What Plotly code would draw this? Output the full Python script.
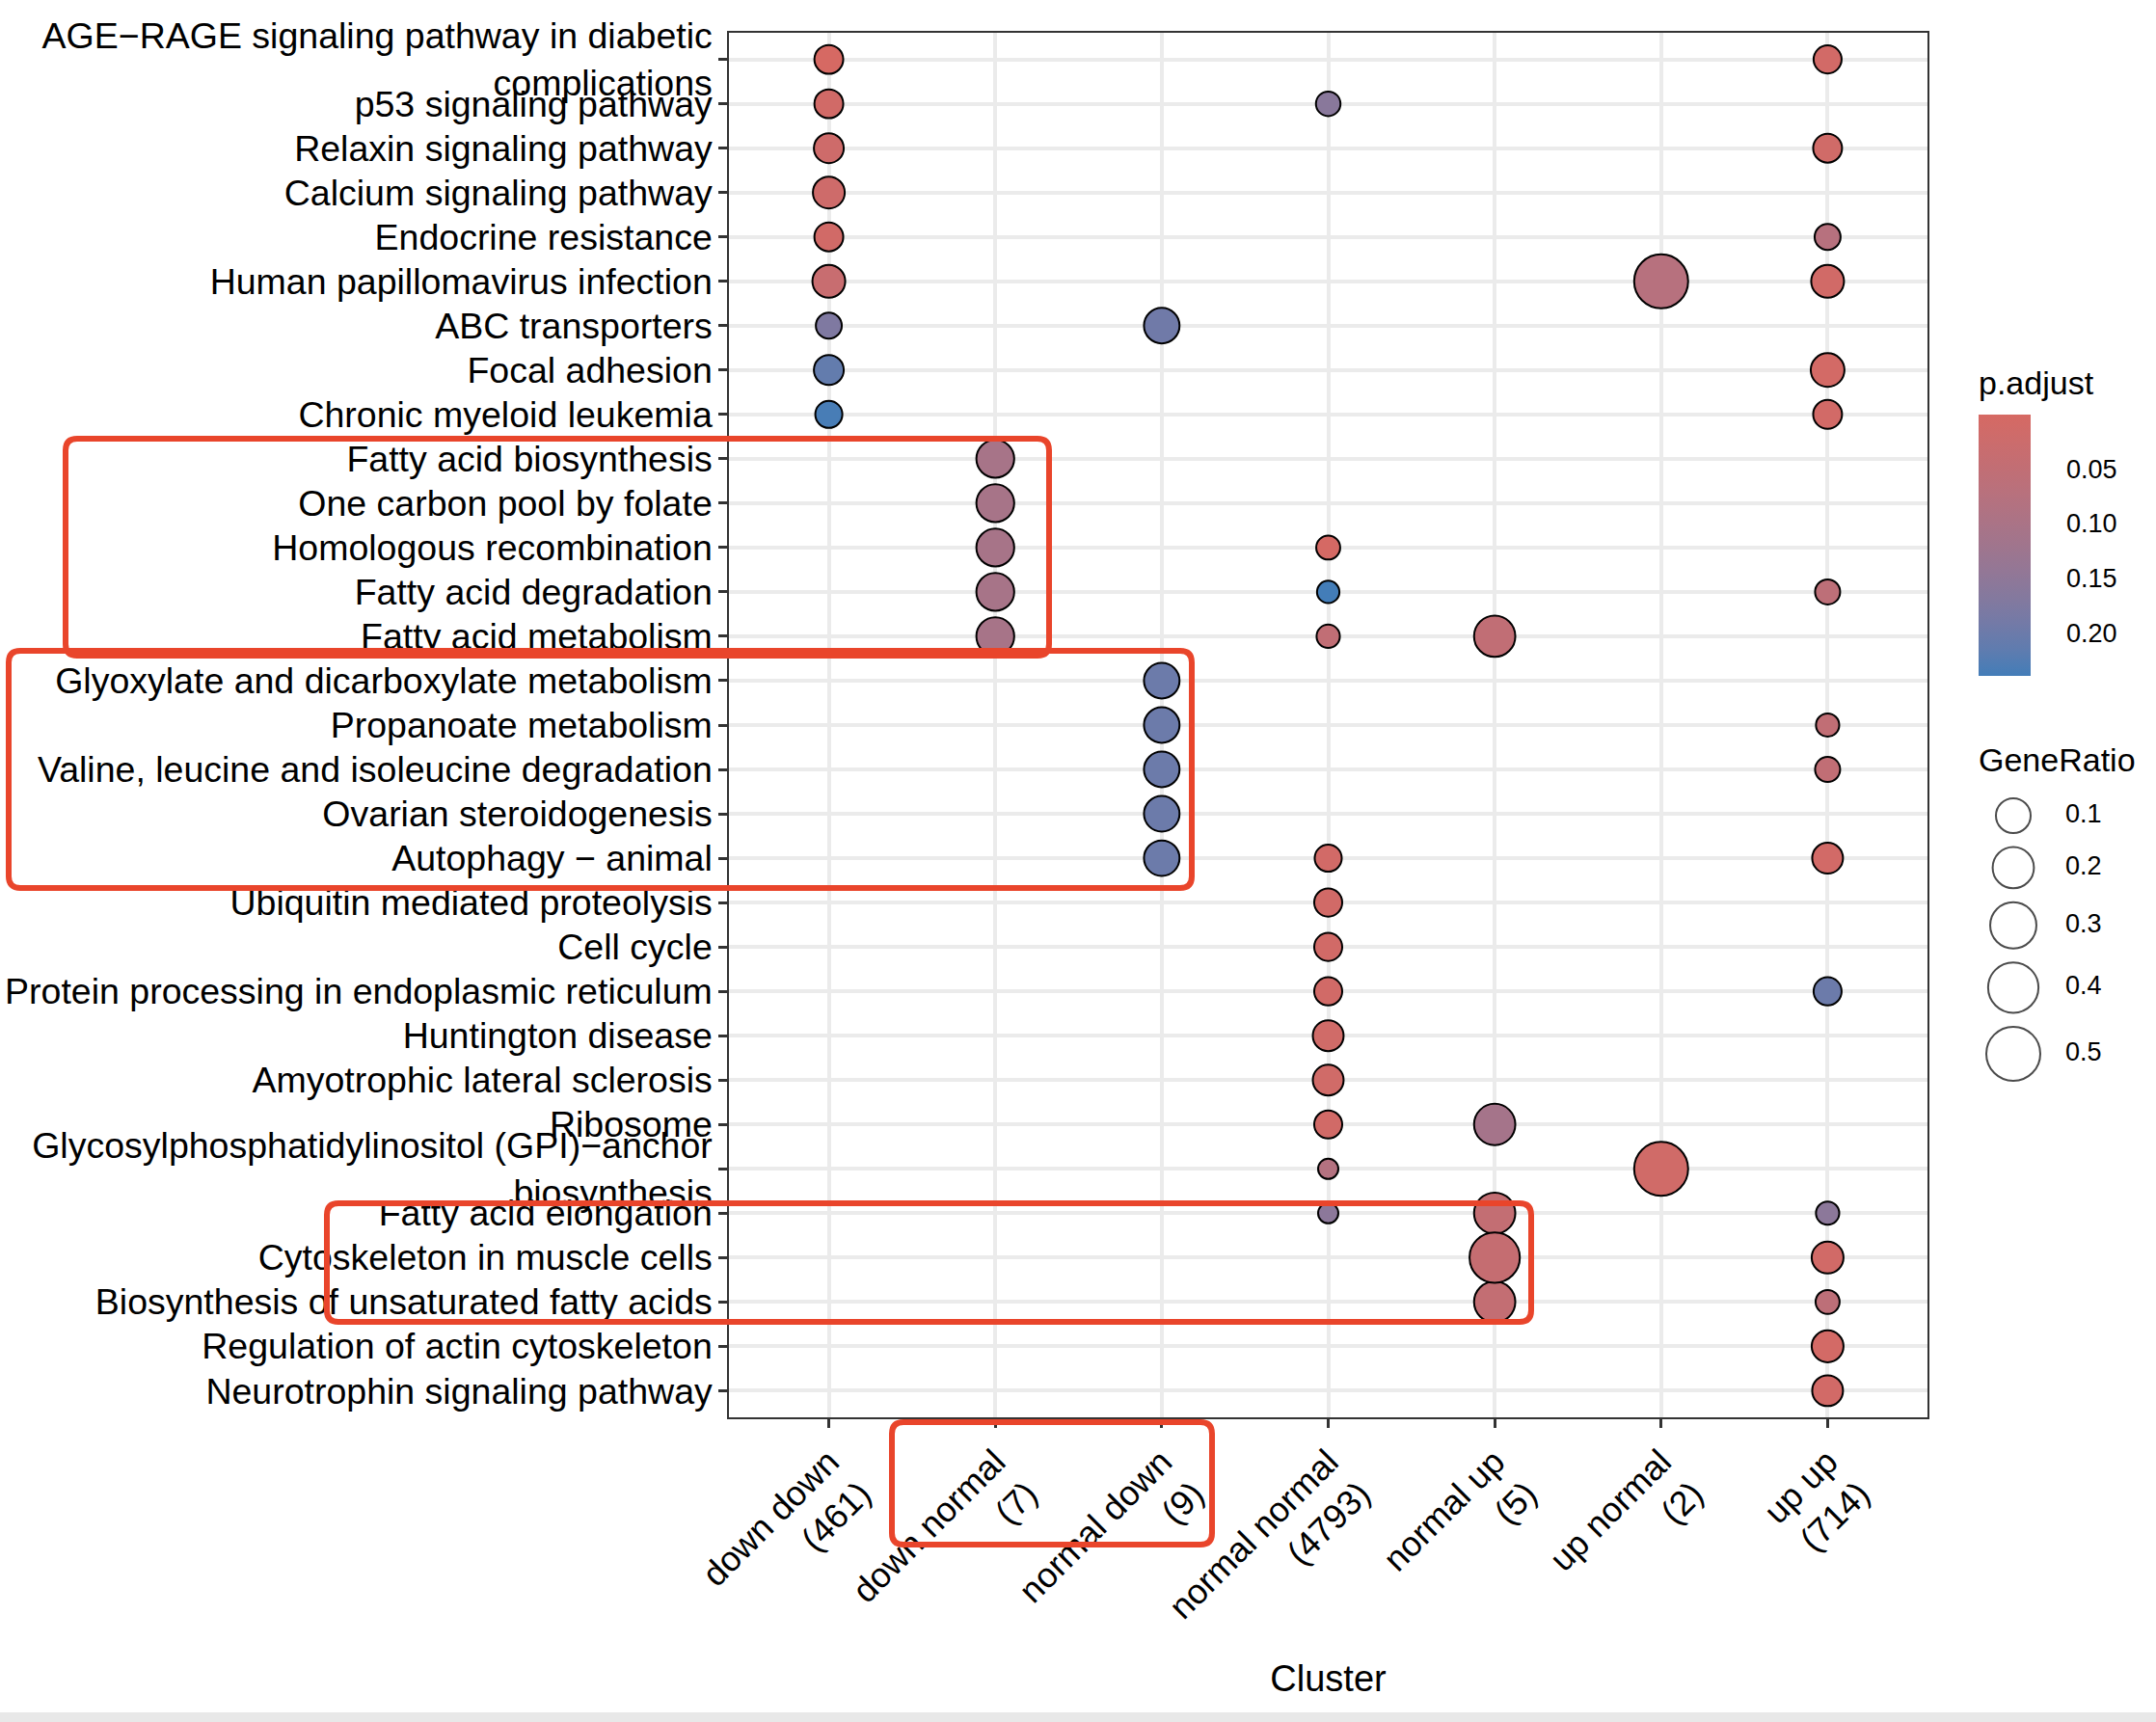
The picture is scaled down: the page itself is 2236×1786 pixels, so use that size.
import numpy as np
import plotly.graph_objects as go

W, H = 2236, 1786
FONT = "Liberation Sans, Arial, Helvetica, sans-serif"

# ---------------- data ----------------
pathways = [
    "AGE\u2212RAGE signaling pathway in diabetic<br>complications",
    "p53 signaling pathway",
    "Relaxin signaling pathway",
    "Calcium signaling pathway",
    "Endocrine resistance",
    "Human papillomavirus infection",
    "ABC transporters",
    "Focal adhesion",
    "Chronic myeloid leukemia",
    "Fatty acid biosynthesis",
    "One carbon pool by folate",
    "Homologous recombination",
    "Fatty acid degradation",
    "Fatty acid metabolism",
    "Glyoxylate and dicarboxylate metabolism",
    "Propanoate metabolism",
    "Valine, leucine and isoleucine degradation",
    "Ovarian steroidogenesis",
    "Autophagy \u2212 animal",
    "Ubiquitin mediated proteolysis",
    "Cell cycle",
    "Protein processing in endoplasmic reticulum",
    "Huntington disease",
    "Amyotrophic lateral sclerosis",
    "Ribosome",
    "Glycosylphosphatidylinositol (GPI)\u2212anchor<br>biosynthesis",
    "Fatty acid elongation",
    "Cytoskeleton in muscle cells",
    "Biosynthesis of unsaturated fatty acids",
    "Regulation of actin cytoskeleton",
    "Neurotrophin signaling pathway",
]

clusters = ["down down<br>(461)", "down normal<br>(7)", "normal down<br>(9)",
            "normal normal<br>(4793)", "normal up<br>(5)", "up normal<br>(2)", "up up<br>(714)"]

# term indices (into pathways), GeneRatio and p.adjust per cluster
down_down_terms = [0, 1, 2, 3, 4, 5, 6, 7, 8]
down_down_ratio = [0.042, 0.042, 0.050, 0.068, 0.042, 0.078, 0.024, 0.050, 0.030]
down_down_padj = [0.0006, 0.012, 0.020, 0.020, 0.012, 0.035, 0.175, 0.210, 0.235]

down_normal_terms = [9, 10, 11, 12, 13]
down_normal_ratio = [0.143, 0.143, 0.143, 0.143, 0.143]
down_normal_padj = [0.105, 0.105, 0.105, 0.105, 0.105]

normal_down_terms = [6, 14, 15, 16, 17, 18]
normal_down_ratio = [0.111, 0.111, 0.111, 0.111, 0.111, 0.111]
normal_down_padj = [0.195, 0.200, 0.200, 0.200, 0.200, 0.200]

normal_normal_terms = [1, 11, 12, 13, 18, 19, 20, 21, 22, 23, 24, 25, 26]
normal_normal_ratio = [0.018, 0.016, 0.012, 0.014, 0.030, 0.036, 0.036, 0.036, 0.058, 0.058, 0.036, 0.010, 0.010]
normal_normal_padj = [0.160, 0.004, 0.239, 0.050, 0.010, 0.012, 0.012, 0.012, 0.015, 0.015, 0.012, 0.080, 0.155]

normal_up_terms = [13, 24, 26, 28, 27]
normal_up_ratio = [0.200, 0.200, 0.200, 0.200, 0.400]
normal_up_padj = [0.050, 0.110, 0.045, 0.045, 0.040]

up_normal_terms = [5, 25]
up_normal_ratio = [0.500, 0.500]
up_normal_padj = [0.075, 0.015]

up_up_terms = [0, 2, 4, 5, 7, 8, 12, 15, 16, 18, 21, 26, 27, 28, 29, 30]
up_up_ratio = [0.036, 0.042, 0.024, 0.078, 0.088, 0.042, 0.020, 0.014, 0.020, 0.058, 0.036, 0.014, 0.068, 0.016, 0.068, 0.058]
up_up_padj = [0.010, 0.015, 0.075, 0.012, 0.008, 0.010, 0.060, 0.050, 0.050, 0.010, 0.200, 0.155, 0.012, 0.060, 0.008, 0.010]

size_breaks = [0.1, 0.2, 0.3, 0.4, 0.5]
color_breaks = [0.05, 0.10, 0.15, 0.20]

# ---------------- assemble ----------------
groups = [
    (down_down_terms, down_down_ratio, down_down_padj),
    (down_normal_terms, down_normal_ratio, down_normal_padj),
    (normal_down_terms, normal_down_ratio, normal_down_padj),
    (normal_normal_terms, normal_normal_ratio, normal_normal_padj),
    (normal_up_terms, normal_up_ratio, normal_up_padj),
    (up_normal_terms, up_normal_ratio, up_normal_padj),
    (up_up_terms, up_up_ratio, up_up_padj),
]
xs, ys, ratios, padjs = [], [], [], []
for ci, (terms, rr, pp) in enumerate(groups):
    for t, r, p in zip(terms, rr, pp):
        xs.append(clusters[ci]); ys.append(pathways[t]); ratios.append(r); padjs.append(p)
ratios = np.array(ratios); padjs = np.array(padjs)

LINE_W = 2.0
D_MIN, D_MAX = 23.0, 58.0
vmin, vmax = ratios.min(), ratios.max()


def diam(v):
    v = np.asarray(v, dtype=float)
    return D_MIN + (D_MAX - D_MIN) * np.sqrt(np.clip((v - vmin) / (vmax - vmin), 0, None))


# ---- Lab colour interpolation (like ggplot gradient) ----
def _lin(c):
    c = c / 255.0
    return np.where(c <= 0.04045, c / 12.92, ((c + 0.055) / 1.055) ** 2.4)


def _unlin(c):
    c = np.where(c <= 0.0031308, 12.92 * c, 1.055 * np.power(np.clip(c, 0, None), 1 / 2.4) - 0.055)
    return np.clip(np.round(c * 255), 0, 255)


M = np.array([[0.4124564, 0.3575761, 0.1804375],
              [0.2126729, 0.7151522, 0.0721750],
              [0.0193339, 0.1191920, 0.9503041]])
WHITE = np.array([0.95047, 1.0, 1.08883])


def hex2lab(h):
    rgb = np.array([int(h[i:i + 2], 16) for i in (1, 3, 5)], dtype=float)
    xyz = M @ _lin(rgb) / WHITE
    d = 6 / 29
    f = np.where(xyz > d ** 3, np.cbrt(xyz), xyz / (3 * d * d) + 4 / 29)
    return np.array([116 * f[1] - 16, 500 * (f[0] - f[1]), 200 * (f[1] - f[2])])


def lab2rgb(lab):
    L, a, b = lab
    fy = (L + 16) / 116
    fx = fy + a / 500
    fz = fy - b / 200
    d = 6 / 29
    f = np.array([fx, fy, fz])
    xyz = np.where(f > d, f ** 3, 3 * d * d * (f - 4 / 29)) * WHITE
    rgb = _unlin(np.linalg.inv(M) @ xyz)
    return "rgb(%d,%d,%d)" % tuple(rgb)


LOW, HIGH = "#D66963", "#437DB8"
lab_low, lab_high = hex2lab(LOW), hex2lab(HIGH)
# colour values are negated so that small p.adjust sits on top of the colour bar
stops = np.linspace(0, 1, 11)
colorscale = [[float(t), lab2rgb(lab_low + (lab_high - lab_low) * (1 - t))] for t in stops]

# colour bar geometry (pixels)
CB_X0, CB_X1, CB_Y0, CB_Y1 = 2052, 2106, 430, 701

# ---------------- figure ----------------
fig = go.Figure()

fig.add_trace(go.Scatter(
    x=xs, y=ys, mode="markers",
    marker=dict(
        size=diam(ratios) - LINE_W,
        color=-padjs,
        cmin=-padjs.max(), cmax=-padjs.min(),
        colorscale=colorscale,
        line=dict(color="black", width=LINE_W),
        opacity=1,
        colorbar=dict(
            x=CB_X0 / W, xanchor="left", xpad=0,
            y=1 - (CB_Y0 + CB_Y1) / 2 / H, yanchor="middle", ypad=0,
            len=CB_Y1 - CB_Y0, lenmode="pixels", thickness=CB_X1 - CB_X0, thicknessmode="pixels",
            outlinewidth=0,
            ticks="outside", ticklen=32, tickwidth=1, tickcolor="rgba(0,0,0,0)",
            tickvals=[-b for b in color_breaks],
            ticktext=["%.2f" % b for b in color_breaks],
            tickfont=dict(family=FONT, size=27, color="black"),
        ),
    ),
    showlegend=False, hoverinfo="x+y",
))

# size legend (own little axes)
leg_d = diam(size_breaks)
leg_y = [846.0]
for i in range(1, len(size_breaks)):
    leg_y.append(leg_y[-1] + (leg_d[i - 1] + leg_d[i]) / 2 + 12.5)
fig.add_trace(go.Scatter(
    x=[2088] * len(size_breaks), y=leg_y, mode="markers",
    marker=dict(size=leg_d - LINE_W, color="white", line=dict(color="black", width=LINE_W)),
    xaxis="x2", yaxis="y2", showlegend=False, hoverinfo="skip",
))
fig.add_trace(go.Scatter(
    x=[2142] * len(size_breaks), y=leg_y, mode="text",
    text=["%.1f" % b for b in size_breaks], textposition="middle right",
    textfont=dict(family=FONT, size=27, color="black"),
    xaxis="x2", yaxis="y2", showlegend=False, hoverinfo="skip",
))

PX0, PX1, PY0, PY1 = 756, 1999, 34, 1470
axis_common = dict(
    showline=True, mirror=True, linecolor="#333333", linewidth=1.5,
    showgrid=True, gridcolor="#EBEBEB", gridwidth=3.5,
    ticks="outside", ticklen=9, tickwidth=3, tickcolor="#333333",
    zeroline=False,
)
fig.update_layout(
    width=W, height=H,
    margin=dict(l=0, r=0, t=0, b=0),
    paper_bgcolor="white", plot_bgcolor="white",
    font=dict(family=FONT, color="black"),
    xaxis=dict(
        domain=[PX0 / W, PX1 / W], type="category",
        categoryorder="array", categoryarray=clusters, range=[-0.6, 6.6],
        tickangle=-45, tickfont=dict(size=36, color="black"),
        title=dict(text="Cluster", font=dict(size=38, color="black"), standoff=4),
        automargin=False, **axis_common,
    ),
    yaxis=dict(
        domain=[1 - PY1 / H, 1 - PY0 / H], type="category",
        categoryorder="array", categoryarray=pathways, range=[len(pathways) - 0.4, -0.6],
        tickfont=dict(size=37.5, color="black"), ticklabelstandoff=-1,
        automargin=False, **axis_common,
    ),
    xaxis2=dict(domain=[2030 / W, 1.0], range=[2030, W], visible=False, anchor="y2"),
    yaxis2=dict(domain=[1 - 1130 / H, 1 - 760 / H], range=[1130, 760], visible=False, anchor="x2"),
    annotations=[
        dict(text="p.adjust", x=2050 / W, y=1 - 397 / H, xref="paper", yref="paper",
             xanchor="left", yanchor="middle", showarrow=False, font=dict(size=34, color="black")),
        dict(text="GeneRatio", x=2050 / W, y=1 - 788 / H, xref="paper", yref="paper",
             xanchor="left", yanchor="middle", showarrow=False, font=dict(size=34, color="black")),
    ],
)


def P(x, y):
    return "%.6f,%.6f" % (x / W, 1 - y / H)


def rounded_box(x0, y0, x1, y1, r=12):
    return ("M " + P(x0 + r, y0) + " L " + P(x1 - r, y0) + " Q " + P(x1, y0) + " " + P(x1, y0 + r) +
            " L " + P(x1, y1 - r) + " Q " + P(x1, y1) + " " + P(x1 - r, y1) +
            " L " + P(x0 + r, y1) + " Q " + P(x0, y1) + " " + P(x0, y1 - r) +
            " L " + P(x0, y0 + r) + " Q " + P(x0, y0) + " " + P(x0 + r, y0) + " Z")


shapes = [dict(type="rect", xref="paper", yref="paper", x0=0, x1=1, y0=0, y1=10 / H,
               fillcolor="#E8E8E8", line=dict(width=0), layer="below")]

# white tick marks inside the colour bar (both edges), placed from the colour scale
pmin, pmax = padjs.min(), padjs.max()
for b in color_breaks:
    yy = CB_Y0 + (b - pmin) / (pmax - pmin) * (CB_Y1 - CB_Y0)
    for xa, xb in [(CB_X0, CB_X0 + 11), (CB_X1 - 11, CB_X1)]:
        shapes.append(dict(type="path", xref="paper", yref="paper",
                           path="M " + P(xa, yy) + " L " + P(xb, yy),
                           line=dict(color="white", width=1.5), layer="above"))

for box in [(68, 455, 1088, 680), (9, 675, 1236, 921), (925, 1475, 1257, 1602), (339, 1248, 1588, 1371)]:
    shapes.append(dict(type="path", xref="paper", yref="paper", path=rounded_box(*box),
                       line=dict(color="#E9452B", width=6), fillcolor="rgba(0,0,0,0)", layer="above"))
fig.update_layout(shapes=shapes)

fig.write_html("out.html", config={"displayModeBar": False},
               post_script="document.body.style.margin='0';document.body.style.overflow='hidden';")
